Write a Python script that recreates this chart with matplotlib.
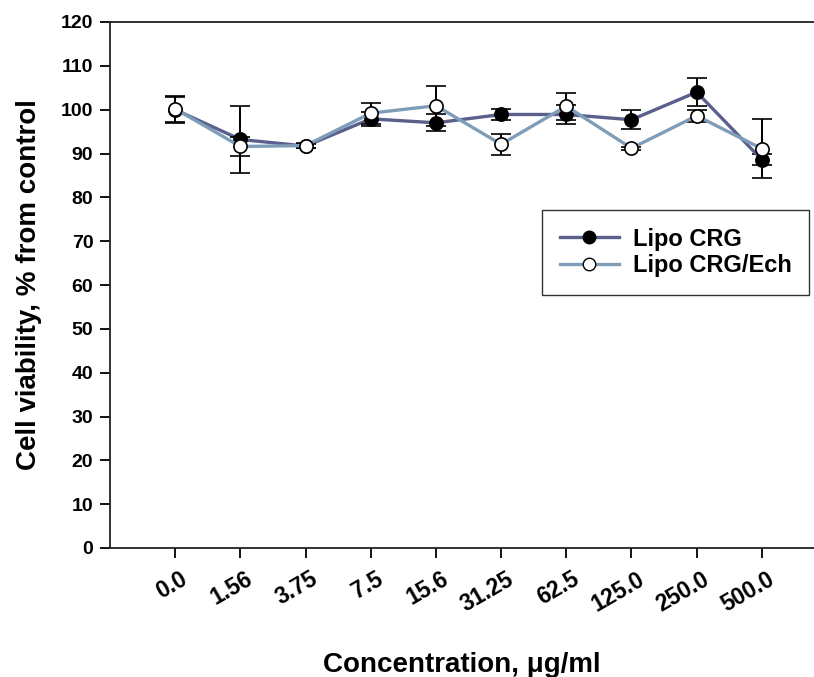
import matplotlib
matplotlib.use("Agg")
import matplotlib.pyplot as plt
import matplotlib.transforms as mtransforms
from matplotlib.lines import Line2D

plt.rcParams['font.family'] = ['Liberation Sans', 'DejaVu Sans']
plt.rcParams['font.weight'] = 'bold'

conc_labels = ["0.0", "1.56", "3.75", "7.5", "15.6", "31.25", "62.5", "125.0", "250.0", "500.0"]
crg = [100.0, 93.2, 91.7, 97.9, 97.0, 98.9, 98.9, 97.7, 104.0, 88.6]
crg_err = [3.0, 7.6, 0.5, 1.6, 1.9, 1.3, 2.2, 2.2, 3.2, 1.2]
crg_ech = [100.2, 91.6, 91.8, 99.2, 100.9, 92.1, 100.8, 91.2, 98.6, 91.1]
crg_ech_err = [3.0, 2.2, 0.5, 2.4, 4.6, 2.4, 3.1, 0.3, 1.3, 6.8]

x = list(range(len(conc_labels)))

fig = plt.figure(figsize=(8.14, 6.77), dpi=100)
ax = fig.add_axes([110 / 814, 129 / 677, 704 / 814, 526 / 677])

dark = '#5b5f8c'
light = '#7f9db8'

ax.errorbar(x, crg, yerr=crg_err, color=dark, lw=2.4, marker='o', ms=9.5,
            mfc='black', mec='black', mew=1.2, ecolor='black', elinewidth=1.4,
            capsize=7, capthick=1.4, zorder=3)
ax.errorbar(x, crg_ech, yerr=crg_ech_err, color=light, lw=2.4, marker='o', ms=9.5,
            mfc='white', mec='black', mew=1.2, ecolor='black', elinewidth=1.4,
            capsize=7, capthick=1.4, zorder=4)

ax.set_xlim(-1.0, 9.8)
ax.set_ylim(0, 120)
ax.set_yticks(range(0, 121, 10))
ax.set_xticks(x)
ax.set_xticklabels(conc_labels, rotation=30, ha='right', va='top',
                   rotation_mode='anchor', fontsize=16.5, fontweight='bold')
ax.tick_params(axis='y', labelsize=14, length=7, width=1.3, direction='out', pad=5)
ax.tick_params(axis='x', length=7, width=1.3, direction='out', pad=7)

# nudge the rotated labels a little to the right, as in the original
shift = mtransforms.ScaledTranslation(5 / 100, 0, fig.dpi_scale_trans)
for lbl in ax.get_xticklabels():
    lbl.set_transform(lbl.get_transform() + shift)

for s in ['left', 'bottom', 'top']:
    ax.spines[s].set_linewidth(1.3)
    ax.spines[s].set_color('#222222')
ax.spines['right'].set_visible(False)

ax.set_xlabel('Concentration, \u03bcg/ml', fontsize=20, fontweight='bold', labelpad=26)
ax.set_ylabel('Cell viability, % from control', fontsize=20, fontweight='bold', labelpad=14)

handles = [
    Line2D([], [], color=dark, lw=2.4, marker='o', ms=9, mfc='black', mec='black'),
    Line2D([], [], color=light, lw=2.4, marker='o', ms=9, mfc='white', mec='black'),
]
leg = ax.legend(handles, ['Lipo CRG', 'Lipo CRG/Ech'], loc='upper left',
                bbox_to_anchor=(432 / 704, 338 / 526), fontsize=17,
                frameon=True, fancybox=False, edgecolor='black', handlelength=2.5,
                borderpad=0.75, labelspacing=0.15, handletextpad=0.6, borderaxespad=0)
leg.get_frame().set_linewidth(1.0)
for t in leg.get_texts():
    t.set_fontweight('bold')

fig.savefig('out.png', dpi=100)
